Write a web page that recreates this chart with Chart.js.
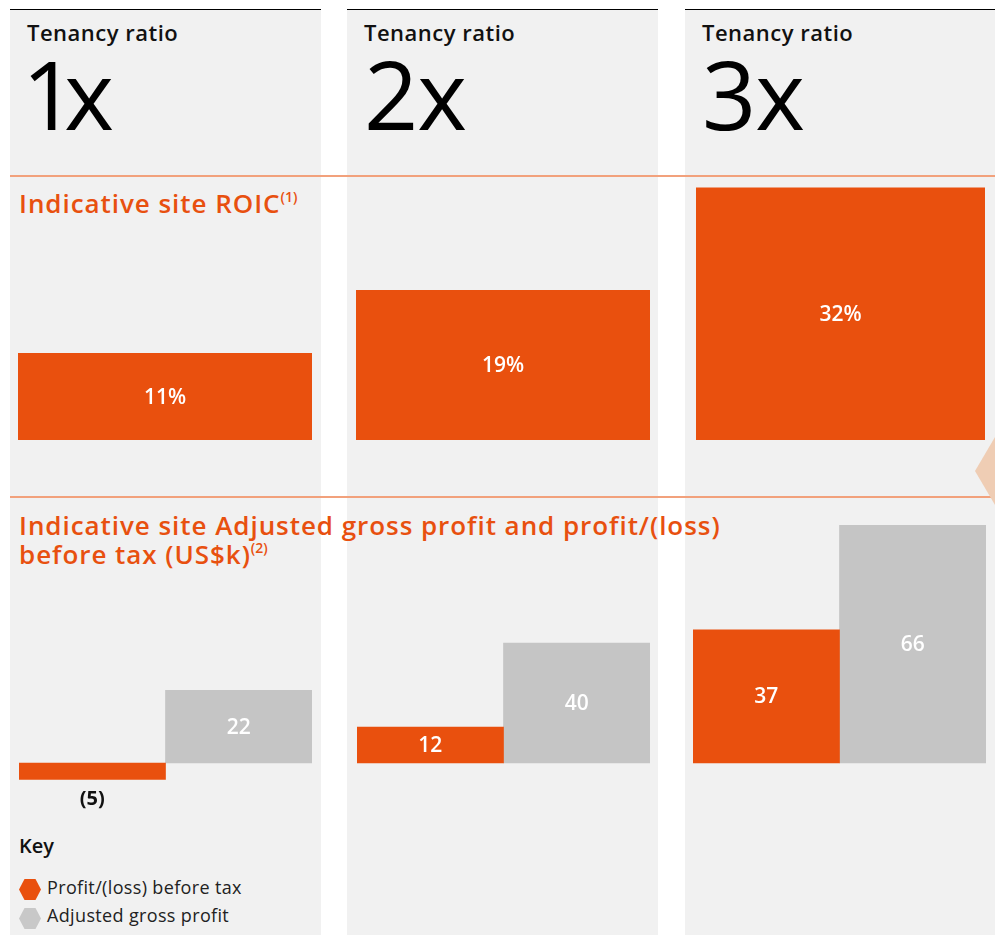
<!DOCTYPE html>
<html>
<head>
<meta charset="utf-8">
<script src="https://cdn.jsdelivr.net/npm/chart.js@4.4.1/dist/chart.umd.min.js"></script>
<style>
  html, body { margin:0; padding:0; background:#ffffff; width:995px; height:935px; overflow:hidden; }
  body { font-family:"Open Sans", "DejaVu Sans", sans-serif; }
  #root { position:relative; width:995px; height:935px; }
  .panel { position:absolute; top:9px; height:926px; background:#f1f1f1; border-top:1px solid #000; box-sizing:border-box; }
  .rule { position:absolute; left:10px; width:985px; height:2px; background:#f2a17c; }
  .txt { position:absolute; white-space:nowrap; }
  .tenancy { font-size:22px; line-height:22px; font-weight:600; color:#111; letter-spacing:0.5px; }
  .big { font-size:95px; line-height:95px; font-weight:500; color:#000; letter-spacing:-1px; }
  .otitle { font-size:26px; line-height:28.5px; font-weight:600; color:#e8500f; letter-spacing:0.95px; }
  .otitle sup { font-size:14px; line-height:0; vertical-align:0; position:relative; top:-11px; font-weight:600; letter-spacing:0; }
  .key { font-size:20px; line-height:20px; font-weight:600; color:#111; }
  .leg { font-size:18px; line-height:18px; font-weight:400; color:#222; letter-spacing:0.35px; }
  .hex { position:absolute; width:22px; height:21px; clip-path:polygon(25% 0,75% 0,100% 50%,75% 100%,25% 100%,0 50%); }
  .chartbox { position:absolute; }
  .chartbox canvas { display:block; }
  .deco { position:absolute; left:975px; top:437px; width:20px; height:68px; background:#efcdb4; clip-path:polygon(100% 0,0 50%,100% 100%); }
</style>
</head>
<body>
<div id="root"></div>
<script>
// ---------------- data ----------------
const tenancyRatios = ['1x', '2x', '3x'];
const roicPercent = [11, 19, 32];
const profitBeforeTax = [-5, 12, 37];
const adjustedGrossProfit = [22, 40, 66];
const seriesNames = ['Profit/(loss) before tax', 'Adjusted gross profit'];
const roicTitle = 'Indicative site ROIC';
const profitTitleLine1 = 'Indicative site Adjusted gross profit and profit/(loss)';
const profitTitleLine2 = 'before tax (US$k)';

// ---------------- layout / style ----------------
const ORANGE = '#e9500e';
const GREY = '#c5c5c5';
const panelLeft = [10, 347, 685];
const panelWidth = [311, 311, 310];
const bigLeft = [22, 364, 702];
const bigSpacing = ['-12px', '-1px', '-1px'];
const roicBox = [{l:18, w:294}, {l:356, w:294}, {l:696, w:289}];
const profitBox = [{l:19, w:293}, {l:357, w:293}, {l:693, w:293}];
const ROIC_TOP = 180, ROIC_H = 260, ROIC_MAX = 33;
const PROFIT_TOP = 520, PROFIT_H = 305, PROFIT_ZERO = 763;
const profitPxPerUnit = [3.3, 3.0, 3.6];

const root = document.getElementById('root');
function el(tag, cls, css, html) {
  const d = document.createElement(tag);
  if (cls) d.className = cls;
  if (css) Object.assign(d.style, css);
  if (html !== undefined) d.innerHTML = html;
  root.appendChild(d);
  return d;
}

// panels
tenancyRatios.forEach((t, i) => {
  el('div', 'panel', {left: panelLeft[i] + 'px', width: panelWidth[i] + 'px'});
});
// rules
el('div', 'rule', {top: '175px'});
el('div', 'rule', {top: '496px'});
el('div', 'deco', null);

// headers
tenancyRatios.forEach((t, i) => {
  el('div', 'txt tenancy', {left: (panelLeft[i] + 17) + 'px', top: '21px'}, 'Tenancy ratio');
  el('div', 'txt big', {left: bigLeft[i] + 'px', top: '46px', letterSpacing: bigSpacing[i]}, t);
});

// titles
el('div', 'txt otitle', {left: '19px', top: '189px'}, roicTitle + '<sup>(1)</sup>');
el('div', 'txt otitle', {left: '19px', top: '511px'}, profitTitleLine1 + '<br>' + profitTitleLine2 + '<sup>(2)</sup>');

// key
el('div', 'txt key', {left: '19px', top: '836px'}, 'Key');
el('div', 'hex', {left: '19px', top: '879px', background: ORANGE});
el('div', 'hex', {left: '19px', top: '908px', background: '#c8c8c8'});
el('div', 'txt leg', {left: '47px', top: '878px'}, seriesNames[0]);
el('div', 'txt leg', {left: '47px', top: '906px'}, seriesNames[1]);

// ---------------- label plugin ----------------
const barLabels = {
  id: 'barLabels',
  afterDatasetsDraw(chart, args, opts) {
    const ctx = chart.ctx;
    const suffix = opts.suffix || '';
    ctx.save();
    ctx.textAlign = 'center';
    ctx.textBaseline = 'middle';
    chart.data.datasets.forEach((ds, di) => {
      const meta = chart.getDatasetMeta(di);
      meta.data.forEach((bar, j) => {
        const v = ds.data[j];
        if (v < 0) {
          ctx.fillStyle = '#111';
          ctx.font = '700 20px "Open Sans"';
          ctx.fillText('(' + Math.abs(v) + ')' + suffix, bar.x, bar.y + 20);
        } else {
          ctx.fillStyle = '#ffffff';
          ctx.font = '600 21px "Open Sans"';
          ctx.fillText(v + suffix, bar.x, (bar.y + bar.base) / 2 + 1);
        }
      });
    });
    ctx.restore();
  }
};

function makeCanvas(left, top, w, h) {
  const box = el('div', 'chartbox', {left: left + 'px', top: top + 'px', width: w + 'px', height: h + 'px'});
  const c = document.createElement('canvas');
  c.width = w; c.height = h;
  c.style.width = w + 'px'; c.style.height = h + 'px';
  box.appendChild(c);
  return c;
}

const baseOpts = (ymin, ymax, suffix) => ({
  responsive: false,
  animation: false,
  events: [],
  devicePixelRatio: 1,
  layout: {padding: 0},
  plugins: {legend: {display: false}, tooltip: {enabled: false}, title: {display: false}, barLabels: {suffix: suffix}},
  scales: {
    x: {display: false},
    y: {display: false, min: ymin, max: ymax}
  }
});

// ROIC charts
tenancyRatios.forEach((t, i) => {
  const c = makeCanvas(roicBox[i].l, ROIC_TOP, roicBox[i].w, ROIC_H);
  new Chart(c, {
    type: 'bar',
    data: {
      labels: [t],
      datasets: [{label: roicTitle, data: [roicPercent[i]], backgroundColor: ORANGE, borderWidth: 0, barPercentage: 1, categoryPercentage: 1}]
    },
    options: baseOpts(0, ROIC_MAX, '%'),
    plugins: [barLabels]
  });
});

// Profit charts
tenancyRatios.forEach((t, i) => {
  const c = makeCanvas(profitBox[i].l, PROFIT_TOP, profitBox[i].w, PROFIT_H);
  const k = profitPxPerUnit[i];
  const ymax = (PROFIT_ZERO - PROFIT_TOP) / k;
  const ymin = -(PROFIT_TOP + PROFIT_H - PROFIT_ZERO) / k;
  new Chart(c, {
    type: 'bar',
    data: {
      labels: [t],
      datasets: [
        {label: seriesNames[0], data: [profitBeforeTax[i]], backgroundColor: ORANGE, borderWidth: 0, barPercentage: 1, categoryPercentage: 1},
        {label: seriesNames[1], data: [adjustedGrossProfit[i]], backgroundColor: GREY, borderWidth: 0, barPercentage: 1, categoryPercentage: 1}
      ]
    },
    options: baseOpts(ymin, ymax, ''),
    plugins: [barLabels]
  });
});
</script>
</body>
</html>
